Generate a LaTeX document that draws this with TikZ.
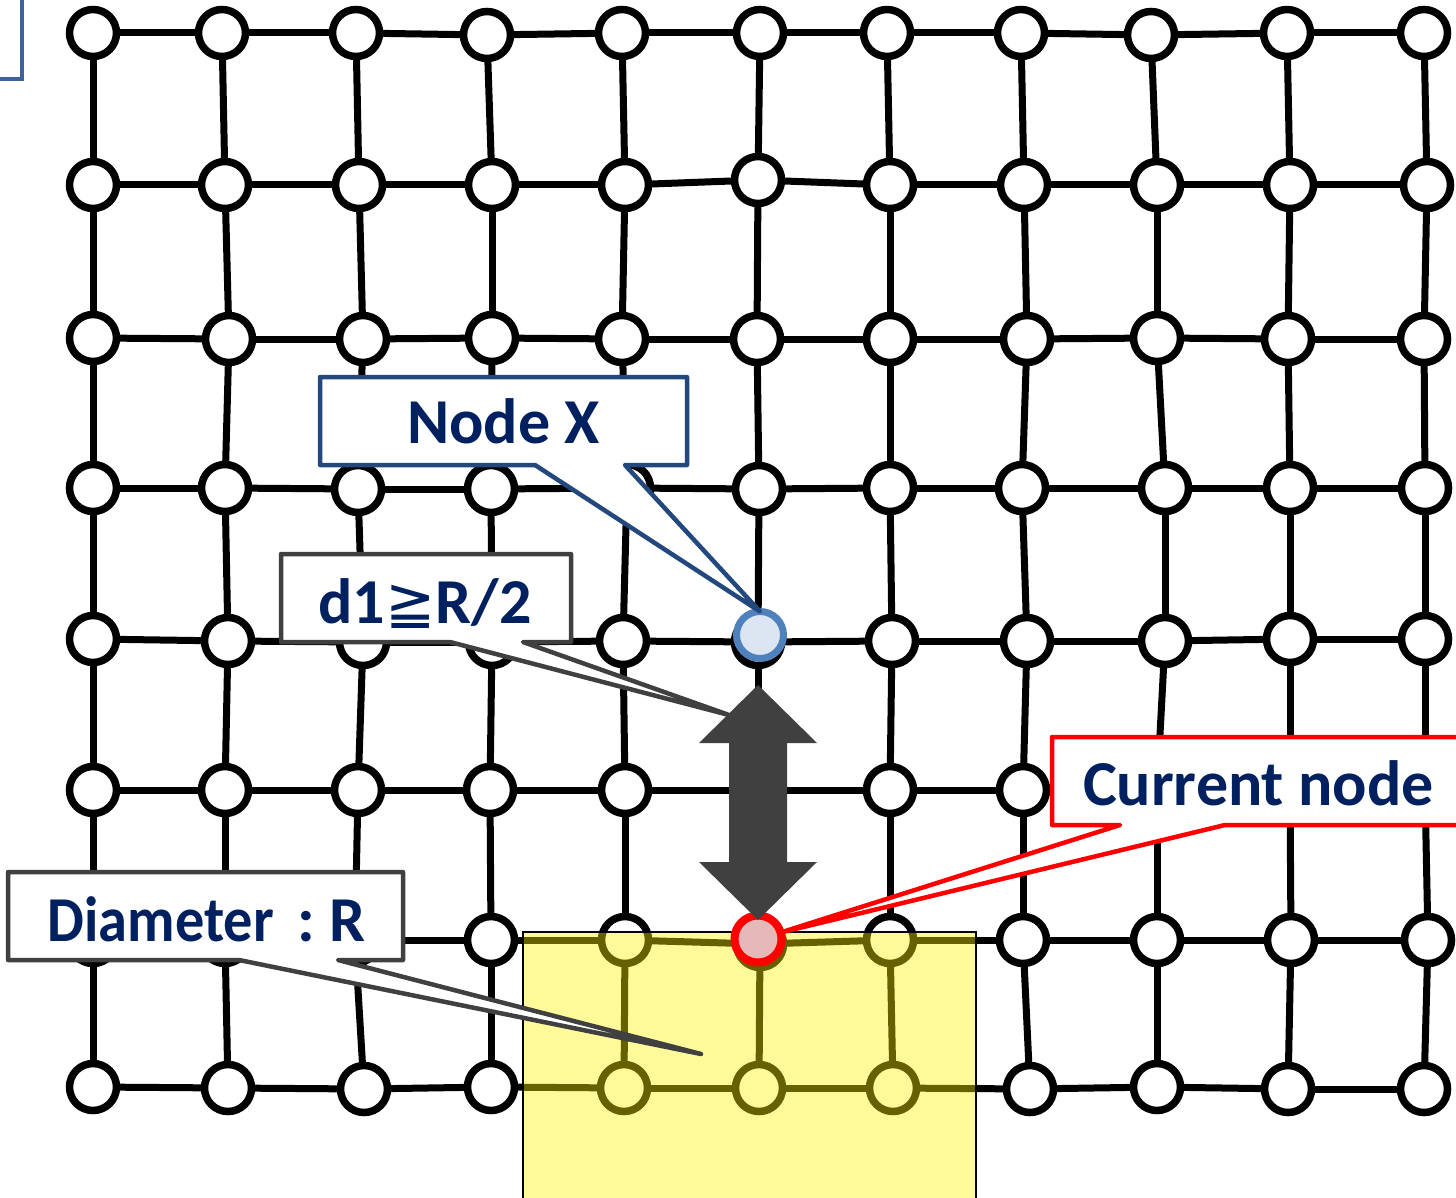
\documentclass[tikz,border=0pt]{standalone}
\usepackage{fontspec}
\setmainfont{Carlito}
\newfontfamily\symfont{DejaVu Sans}
\definecolor{navy}{RGB}{0,32,96}
\definecolor{nxblue}{RGB}{35,72,125}
\definecolor{midblue}{RGB}{79,129,189}
\definecolor{paleblue}{RGB}{220,230,242}
\definecolor{pinkfill}{RGB}{230,185,184}
\definecolor{darkgray}{RGB}{64,64,64}
\definecolor{edgeblue}{RGB}{60,100,155}
\begin{document}
\begin{tikzpicture}[x=1pt,y=-1pt,
  gnode/.style={circle, draw=black, fill=white, line width=7.5pt, minimum size=47pt, inner sep=0pt, outer sep=0pt},
  gedge/.style={line width=7pt, black},
  bluenode/.style={circle, draw=midblue, fill=paleblue, line width=7pt, minimum size=47pt, inner sep=0pt, outer sep=0pt},
  rednode/.style={circle, draw=red, fill=pinkfill, line width=8pt, minimum size=47pt, inner sep=0pt, outer sep=0pt},
  callout/.style={fill=white, line width=4.5pt, line join=round},
  lbl/.style={font=\fontsize{64}{68}\selectfont\bfseries, text=navy, inner sep=0pt, anchor=base},
]
\useasboundingbox (0,0) rectangle (1456,1198);
\clip (0,0) rectangle (1456,1198);

% partial box at top-left
\draw[edgeblue, line width=4pt] (-5,79.5) -- (22,79.5) -- (22,-5);

% grid nodes
\foreach \r/\c/\x/\y in {
 1/1/93/33, 1/2/222/33, 1/3/356/33, 1/4/487/35, 1/5/622/33, 1/6/760/33, 1/7/887/33, 1/8/1021/33, 1/9/1151/35, 1/10/1287/33, 1/11/1424/33,
 2/1/93/185, 2/2/225/185, 2/3/359/185, 2/4/492/185, 2/5/625/185, 2/6/758/180, 2/7/890/185, 2/8/1024/185, 2/9/1157/185, 2/10/1290/185, 2/11/1427/185,
 3/1/93/338, 3/2/229/339, 3/3/363/339, 3/4/492/338, 3/5/622/339, 3/6/757/339, 3/7/890/339, 3/8/1027/339, 3/9/1157/338, 3/10/1288/339, 3/11/1424/339,
 4/1/93/488, 4/2/225/488, 4/3/358/489, 4/4/491/489, 4/5/627/488, 4/6/759/489, 4/7/890/488, 4/8/1022/488, 4/9/1165/488, 4/10/1290/488, 4/11/1425/488,
 5/1/93/639, 5/2/228/641, 5/3/363/642, 5/4/492/642, 5/5/623/641, 5/6/758/642, 5/7/892/641, 5/8/1027/641, 5/9/1165/641, 5/10/1290/639, 5/11/1425/639,
 6/1/93/790, 6/2/225/790, 6/3/358/790, 6/4/490/790, 6/5/625/790, 6/6/758/790, 6/7/890/790, 6/8/1023/790, 6/9/1157/790, 6/10/1290/790, 6/11/1425/790,
 7/1/93/940, 7/2/225/940, 7/3/355/940, 7/4/491/940, 7/5/625/940, 7/6/760/944, 7/7/890/940, 7/8/1023/940, 7/9/1157/940, 7/10/1291/940, 7/11/1428/940,
 8/1/93/1087, 8/2/228/1088, 8/3/364/1089, 8/4/491/1087, 8/5/624/1088, 8/6/759/1088, 8/7/893/1088, 8/8/1030/1089, 8/9/1157/1087, 8/10/1288/1089, 8/11/1424/1089}
  \node[gnode] (n-\r-\c) at (\x,\y) {};

% grid edges
\foreach \r in {1,...,8}
  \foreach \c/\cn in {1/2,2/3,3/4,4/5,5/6,6/7,7/8,8/9,9/10,10/11}
    \draw[gedge] (n-\r-\c) -- (n-\r-\cn);
\foreach \r/\rn in {1/2,2/3,3/4,4/5,5/6,6/7,7/8}
  \foreach \c in {1,...,11}
    \draw[gedge] (n-\r-\c) -- (n-\rn-\c);

% diameter region
\fill[yellow, fill opacity=0.4] (523,932) rectangle (976,1205);
\draw[black, line width=2pt] (523,1205) -- (523,932) -- (976,932) -- (976,1205);

% node X and current node
\node[bluenode] (nodeX) at (760,635) {};
\node[rednode] (cur) at (758,939) {};

% free ends of callout pointers
\coordinate (d1tip) at (729,715);
\coordinate (diamtip) at (701,1054);

% callouts
\draw[callout, draw=nxblue] (320,377) -- (687,377) -- (687,465) -- (625,465) -- (nodeX.north) -- (535,465) -- (320,465) -- cycle;
\node[lbl] (lblX) at (503.5,443) {Node X};

\draw[callout, draw=darkgray] (281,554) -- (571,554) -- (571,642) -- (523,642) -- (d1tip) -- (450,642) -- (281,642) -- cycle;
\node[lbl] (lblD1) at (425,623) {d1{\symfont\fontsize{60}{60}\selectfont\mdseries ≧}R/2};

\draw[callout, draw=red] (1052,737) -- (1475,737) -- (1475,825) -- (1225,825) -- (cur.16) -- (1120,825) -- (1052,825) -- cycle;
\node[lbl] (lblCur) at (1258.5,805) {Current node};

\draw[callout, draw=darkgray] (8,872) -- (403,872) -- (403,960) -- (338,960) -- (diamtip) -- (239,960) -- (8,960) -- cycle;
\node[lbl] (lblDiam) at (206.5,941) {\scalebox{0.912}[1]{Diameter} \hspace{9pt}: \hspace{-5pt}R};

% double arrow
\coordinate (arrTop) at (758,685);
\coordinate (arrBot) at (758,920);
\fill[darkgray] (arrTop) -- (817,743) -- (787,743) -- (787,862) -- (817,862) -- (arrBot) -- (699,862) -- (729,862) -- (729,743) -- (699,743) -- cycle;
\end{tikzpicture}
\end{document}
